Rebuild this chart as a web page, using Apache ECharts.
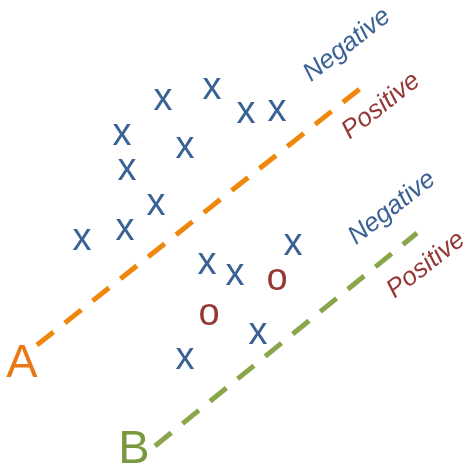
<!DOCTYPE html>
<html>
<head>
<meta charset="utf-8">
<script src="https://cdn.jsdelivr.net/npm/echarts@6/dist/echarts.min.js"></script>
<style>
  html, body { margin: 0; padding: 0; background: #fff; }
  #chart { width: 469px; height: 474px; }
</style>
</head>
<body>
<div id="chart"></div>
<script>
// negative samples (drawn as "x")
const negPoints = [
  [163, 374], [212, 385], [246, 361], [277, 363],
  [122, 339], [185, 326], [127, 304], [156, 269],
  [125, 244], [82, 234], [207, 210], [235, 199],
  [293, 229], [258, 140], [185, 115]
];
// positive samples (drawn as "o")
const posPoints = [[277, 194], [209, 159]];

// decision boundaries
const lineA = [[37, 129], [361, 386]];
const lineB = [[155, 28], [417, 241]];

// name labels at the lower end of each line
const nameLabels = [
  { name: 'A', value: [22, 110], color: '#e97817' },
  { name: 'B', value: [134, 24], color: '#789a3e' }
];

// side labels along each line
const sideLabels = [
  { name: 'Negative', value: [347, 429], color: '#3a6295' },
  { name: 'Positive', value: [381, 368], color: '#953735' },
  { name: 'Negative', value: [392, 266], color: '#3a6295' },
  { name: 'Positive', value: [426, 209], color: '#953735' }
];

const chart = echarts.init(document.getElementById('chart'));

function glyphSeries(data, glyph, color) {
  return {
    type: 'scatter',
    data: data,
    symbolSize: 0,
    silent: true,
    itemStyle: { opacity: 1 },
    label: {
      show: true,
      position: 'inside',
      formatter: glyph,
      color: color,
      fontSize: 38,
      fontFamily: 'Liberation Sans, Arial, sans-serif'
    }
  };
}

function dashedLine(data, color) {
  return {
    type: 'line',
    data: data,
    symbol: 'none',
    silent: true,
    lineStyle: { color: color, width: 5, type: [21, 14.5], cap: 'butt' }
  };
}

chart.setOption({
  animation: false,
  grid: { left: 0, right: 0, top: 0, bottom: 0 },
  xAxis: { type: 'value', min: 0, max: 469, show: false },
  yAxis: { type: 'value', min: 0, max: 474, show: false },
  series: [
    dashedLine(lineA, '#f0870d'),
    dashedLine(lineB, '#8aa64a'),
    glyphSeries(negPoints, 'x', '#3a6295'),
    glyphSeries(posPoints, 'o', '#953735'),
    {
      type: 'scatter',
      symbolSize: 0,
      silent: true,
      itemStyle: { opacity: 1 },
      data: nameLabels.map(d => ({
        value: d.value,
        label: { formatter: d.name, color: d.color }
      })),
      label: {
        show: true,
        position: 'inside',
        fontSize: 47,
        fontFamily: 'Liberation Sans, Arial, sans-serif'
      }
    },
    {
      type: 'scatter',
      symbolSize: 0,
      silent: true,
      itemStyle: { opacity: 1 },
      data: sideLabels.map(d => ({
        value: d.value,
        label: { formatter: d.name, color: d.color }
      })),
      label: {
        show: true,
        position: 'inside',
        rotate: 38,
        fontSize: 26,
        fontStyle: 'italic',
        fontFamily: 'Liberation Sans, Arial, sans-serif'
      }
    }
  ]
});
</script>
</body>
</html>
